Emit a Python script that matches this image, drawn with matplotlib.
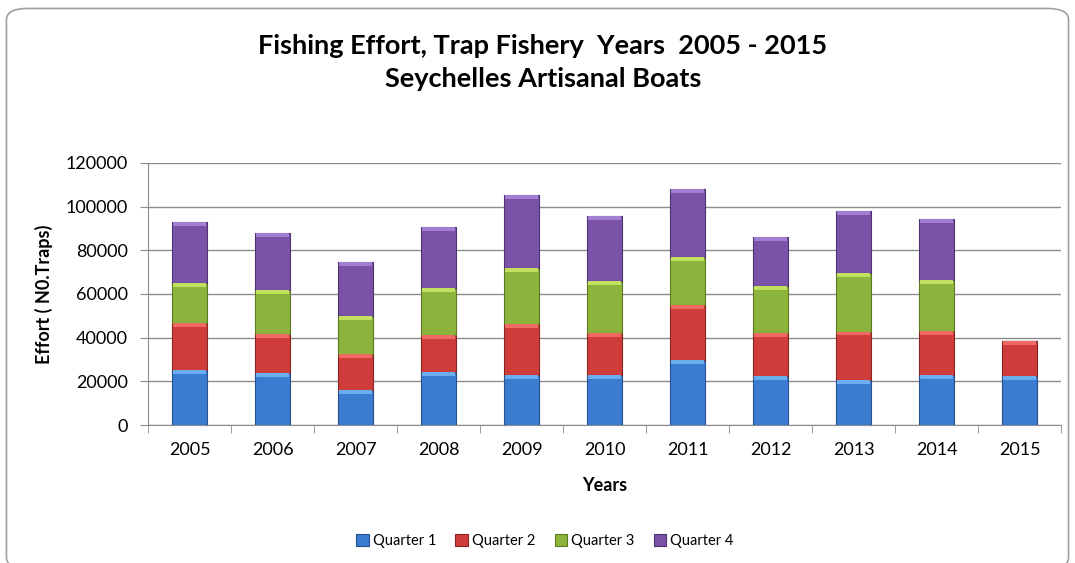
import numpy as np
import matplotlib
matplotlib.use("Agg")
import matplotlib.pyplot as plt
from matplotlib.patches import FancyBboxPatch

plt.rcParams['font.family'] = ['Lato', 'DejaVu Sans']

years = ["2005", "2006", "2007", "2008", "2009", "2010", "2011", "2012", "2013", "2014", "2015"]
q1 = [25200, 23800, 16000, 24300, 22900, 22800, 29800, 22400, 20800, 22900, 22400]
q2 = [21400, 17900, 16500, 17100, 23400, 19400, 25200, 19900, 22000, 20200, 16000]
q3 = [18600, 20000, 17300, 21400, 25500, 23700, 21800, 21400, 26700, 23400, 0]
q4 = [27800, 26200, 24900, 27900, 33700, 29900, 31300, 22400, 28500, 27900, 0]

# name, values, fill, edge, top highlight
series = [("Quarter 1", q1, "#3b7bd0", "#24528f", "#6aaef0"),
          ("Quarter 2", q2, "#cf3d3a", "#8a2422", "#ef6a62"),
          ("Quarter 3", q3, "#8cb43c", "#5c7a22", "#c2e060"),
          ("Quarter 4", q4, "#7a52a8", "#4f3272", "#a07ed0")]

fig = plt.figure(figsize=(10.75, 5.63), dpi=100)

# rounded chart frame, behind the axes
frame = FancyBboxPatch((0.006, -0.01), 0.988, 0.995, transform=fig.transFigure,
                       boxstyle="round,pad=0,rounding_size=0.02",
                       facecolor="white", edgecolor="#a0a0a0", linewidth=1.2, zorder=-1)
fig.patches.append(frame)

ax = fig.add_axes([0.1377, 0.2451, 0.8493, 0.4654])
ax.patch.set_alpha(0)
x = np.arange(len(years))
bottom = np.zeros(len(years))
for name, vals, col, edge, hi in series:
    vals = np.array(vals, dtype=float)
    ax.bar(x, vals, width=0.42, bottom=bottom, color=col, edgecolor=edge,
           linewidth=0.8, label=name, zorder=3)
    # bevel-like highlight along the top of each segment
    band = np.minimum(vals, 1800)
    ax.bar(x, band, width=0.40, bottom=bottom + vals - band, color=hi,
           linewidth=0, zorder=4)
    bottom = bottom + vals

ax.set_xlim(-0.5, len(years) - 0.5)
ax.set_ylim(0, 120000)
ax.set_yticks(np.arange(0, 120001, 20000))
ax.yaxis.grid(True, color="#8c8c8c", linewidth=1.0, zorder=0)
ax.set_axisbelow(True)
ax.set_xticks(x)
ax.set_xticklabels(years, fontsize=13)
ax.set_xticks(np.arange(-0.5, len(years)), minor=True)
ax.tick_params(axis="x", which="major", length=0, pad=12)
ax.tick_params(axis="x", which="minor", length=6, color="#8c8c8c")
ax.tick_params(axis="y", length=6, color="#8c8c8c", labelsize=13, pad=8.5)
for s in ["top", "right"]:
    ax.spines[s].set_visible(False)
ax.spines["left"].set_color("#8c8c8c")
ax.spines["bottom"].set_color("#8c8c8c")

ax.set_xlabel("Years", fontsize=13, fontweight="bold", labelpad=14)
ax.set_ylabel("Effort ( N0.Traps)", fontsize=13, fontweight="bold", labelpad=9)

fig.text(0.505, 0.889, "Fishing Effort, Trap Fishery  Years  2005 - 2015\nSeychelles Artisanal Boats",
         ha="center", va="center", fontsize=19.5, fontweight="bold", linespacing=1.45)

leg = fig.legend(loc="center", bbox_to_anchor=(0.507, 0.039), ncol=4, frameon=False,
                 fontsize=10.5, handlelength=0.85, handleheight=0.85, handletextpad=0.3,
                 columnspacing=1.3)

fig.savefig("out.png", dpi=100)
